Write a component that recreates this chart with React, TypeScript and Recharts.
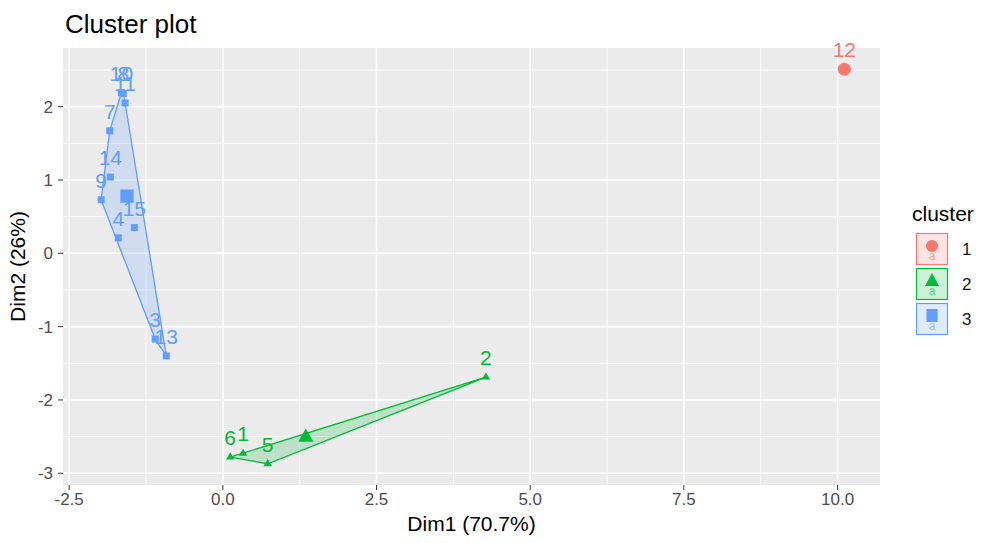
import React from 'react';
import {
  ScatterChart, Scatter, XAxis, YAxis, CartesianGrid, ReferenceLine, LabelList, Symbols,
} from 'recharts';

const FONT = '"Liberation Sans", Arial, sans-serif';
const C1 = '#F8766D';
const C2 = '#00BA38';
const C3 = '#619CFF';

// observations per cluster (Dim1, Dim2)
const cluster1 = [{ name: '12', x: 10.11, y: 2.51 }];
const cluster2 = [
  { name: '1', x: 0.33, y: -2.73 },
  { name: '2', x: 4.28, y: -1.69 },
  { name: '5', x: 0.73, y: -2.87 },
  { name: '6', x: 0.12, y: -2.78 },
];
const cluster3 = [
  { name: '3', x: -1.1, y: -1.17 },
  { name: '4', x: -1.7, y: 0.21 },
  { name: '7', x: -1.84, y: 1.67 },
  { name: '8', x: -1.62, y: 2.18 },
  { name: '9', x: -1.98, y: 0.73 },
  { name: '10', x: -1.65, y: 2.19 },
  { name: '11', x: -1.59, y: 2.05 },
  { name: '13', x: -0.92, y: -1.4 },
  { name: '14', x: -1.83, y: 1.04 },
  { name: '15', x: -1.44, y: 0.35 },
];
// cluster centres
const center1 = [{ x: 10.11, y: 2.51 }];
const center2 = [{ x: 1.35, y: -2.51 }];
const center3 = [{ x: -1.56, y: 0.78 }];

const xTicks = [-2.5, 0, 2.5, 5, 7.5, 10];
const yTicks = [-3, -2, -1, 0, 1, 2];
const xMinor = [-1.25, 1.25, 3.75, 6.25, 8.75];
const yMinor = [-2.5, -1.5, -0.5, 0.5, 1.5, 2.5];

type Pt = { x: number; y: number };

// monotone chain convex hull, returned as a closed ring
function hull(pts: Pt[]): Pt[] {
  const p = [...pts].sort((a, b) => a.x - b.x || a.y - b.y);
  if (p.length < 3) return p;
  const cross = (o: Pt, a: Pt, b: Pt) => (a.x - o.x) * (b.y - o.y) - (a.y - o.y) * (b.x - o.x);
  const lower: Pt[] = [];
  for (const q of p) {
    while (lower.length >= 2 && cross(lower[lower.length - 2], lower[lower.length - 1], q) <= 0) lower.pop();
    lower.push(q);
  }
  const upper: Pt[] = [];
  for (const q of [...p].reverse()) {
    while (upper.length >= 2 && cross(upper[upper.length - 2], upper[upper.length - 1], q) <= 0) upper.pop();
    upper.push(q);
  }
  const ring = lower.slice(0, -1).concat(upper.slice(0, -1));
  return ring.concat([ring[0]]);
}

const noDot = () => <g />;

// marker of fixed area drawn at the point's scaled position
const marker = (type: 'circle' | 'square' | 'triangle', size: number, color: string) => (p: any) => (
  <Symbols cx={p.cx} cy={p.cy} type={type} size={size} fill={color} />
);

const hullLine = (color: string) => (props: any) => {
  const pts = (props.points || []).filter((q: any) => q.x != null && q.y != null);
  if (pts.length < 3) return <g />;
  const d = 'M' + pts.map((q: any) => `${q.x},${q.y}`).join('L') + 'Z';
  return <path d={d} fill={color} fillOpacity={0.2} stroke={color} strokeWidth={1.3} />;
};

const labelStyle = (color: string, offset: number) => ({
  dataKey: 'name',
  position: 'top' as const,
  offset,
  fill: color,
  fontSize: 21,
  fontFamily: FONT,
});

const legendItems = [
  { label: '1', color: C1, kind: 'circle' },
  { label: '2', color: C2, kind: 'triangle' },
  { label: '3', color: C3, kind: 'square' },
];

function LegendKey({ item, y }: { item: typeof legendItems[number]; y: number }) {
  const cx = 932;
  const cy = y + 13;
  let sym: React.ReactNode;
  if (item.kind === 'circle') sym = <circle cx={cx} cy={cy} r={6} fill={item.color} />;
  else if (item.kind === 'triangle') sym = <path d={`M${cx},${cy - 8}L${cx + 7},${cy + 5}L${cx - 7},${cy + 5}Z`} fill={item.color} />;
  else sym = <rect x={cx - 5.5} y={cy - 7} width={11} height={13} fill={item.color} />;
  return (
    <g>
      <rect x={916.5} y={y + 0.5} width={31} height={31} fill={item.color} fillOpacity={0.2} stroke={item.color} strokeWidth={1.2} />
      <text x={cx} y={y + 27} textAnchor="middle" fontSize={12} fontFamily={FONT} fill={item.color} fillOpacity={0.6}>a</text>
      {sym}
      <text x={962} y={y + 16} dominantBaseline="central" fontSize={17} fontFamily={FONT} fill="#1a1a1a">{item.label}</text>
    </g>
  );
}

export default function App() {
  const tick = { fill: '#4D4D4D', fontSize: 17, fontFamily: FONT };
  return (
    <div style={{ position: 'relative', width: 984, height: 543, background: '#fff' }}>
      <style>{'body{margin:0}'}</style>
      <ScatterChart width={984} height={543} margin={{ top: 48, right: 104, bottom: 0, left: 0 }}>
        <CartesianGrid fill="#EBEBEB" horizontal={false} vertical={false} />
        {xMinor.map((v) => <ReferenceLine key={'xm' + v} x={v} stroke="#fff" strokeWidth={0.8} />)}
        {yMinor.map((v) => <ReferenceLine key={'ym' + v} y={v} stroke="#fff" strokeWidth={0.8} />)}
        {xTicks.map((v) => <ReferenceLine key={'xM' + v} x={v} stroke="#fff" strokeWidth={1.6} />)}
        {yTicks.map((v) => <ReferenceLine key={'yM' + v} y={v} stroke="#fff" strokeWidth={1.6} />)}
        <XAxis
          type="number"
          dataKey="x"
          domain={[-2.6, 10.69]}
          ticks={xTicks}
          allowDataOverflow
          tickFormatter={(v: number) => v.toFixed(1)}
          tick={tick}
          tickLine={{ stroke: '#333' }}
          tickSize={5}
          tickMargin={3}
          axisLine={false}
          height={58}
          label={{ value: 'Dim1 (70.7%)', position: 'insideBottom', offset: 12, fill: '#000', fontSize: 21, fontFamily: FONT }}
        />
        <YAxis
          type="number"
          dataKey="y"
          domain={[-3.16, 2.8]}
          ticks={yTicks}
          allowDataOverflow
          tick={tick}
          tickLine={{ stroke: '#333' }}
          tickSize={5}
          tickMargin={5}
          axisLine={false}
          width={63}
          label={{
            value: 'Dim2 (26%)', angle: -90, position: 'insideLeft', offset: 18,
            fill: '#000', fontSize: 21, fontFamily: FONT, style: { textAnchor: 'middle' },
          }}
        />
        <Scatter data={hull(cluster3)} fill={C3} shape={noDot} line={hullLine(C3)} lineType="joint" isAnimationActive={false} />
        <Scatter data={hull(cluster2)} fill={C2} shape={noDot} line={hullLine(C2)} lineType="joint" isAnimationActive={false} />
        <Scatter data={cluster1} fill={C1} shape={marker('circle', 40, C1)} isAnimationActive={false}>
          <LabelList {...labelStyle(C1, 7.5)} />
        </Scatter>
        <Scatter data={cluster2} fill={C2} shape={marker('triangle', 30, C2)} isAnimationActive={false}>
          <LabelList {...labelStyle(C2, 7.5)} />
        </Scatter>
        <Scatter data={cluster3} fill={C3} shape={marker('square', 49, C3)} isAnimationActive={false}>
          <LabelList {...labelStyle(C3, 7.5)} />
        </Scatter>
        <Scatter data={center1} fill={C1} shape={marker('circle', 133, C1)} isAnimationActive={false} />
        <Scatter data={center2} fill={C2} shape={marker('triangle', 100, C2)} isAnimationActive={false} />
        <Scatter data={center3} fill={C3} shape={marker('square', 177, C3)} isAnimationActive={false} />
      </ScatterChart>
      <svg width={984} height={543} style={{ position: 'absolute', left: 0, top: 0, pointerEvents: 'none' }}>
        <text x={65} y={33} fontSize={26} fontFamily={FONT} fill="#000">Cluster plot</text>
        <text x={912} y={221} fontSize={21} fontFamily={FONT} fill="#000">cluster</text>
        {legendItems.map((it, i) => <LegendKey key={it.label} item={it} y={233 + i * 35} />)}
      </svg>
    </div>
  );
}
